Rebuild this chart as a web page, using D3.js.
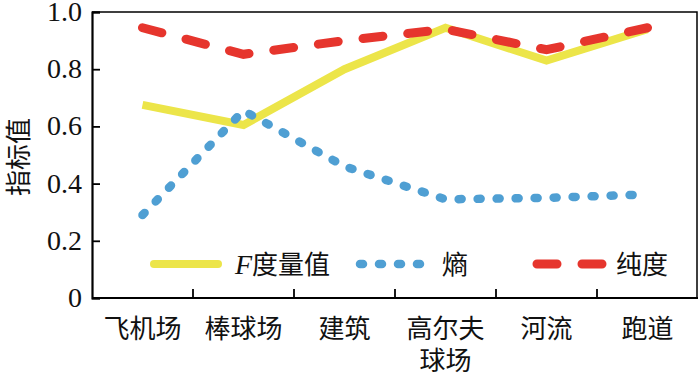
<!DOCTYPE html>
<html>
<head>
<meta charset="utf-8">
<script src="https://cdn.jsdelivr.net/npm/d3@7"></script>
<style>
  body { margin: 0; background: #fff; }
  .num { font-family: "Liberation Serif", "Times New Roman", serif; }
  .cjk { font-family: "Noto Sans CJK SC", sans-serif; }
</style>
</head>
<body>
<script>
// data
var categories = [["飞机场"], ["棒球场"], ["建筑"], ["高尔夫", "球场"], ["河流"], ["跑道"]];
var fValues = [0.675, 0.605, 0.80, 0.945, 0.83, 0.94];
var entropyValues = [0.29, 0.655, 0.46, 0.345, 0.35, 0.362];
var purityValues = [0.945, 0.852, 0.90, 0.94, 0.868, 0.945];
var yTicks = [0, 0.2, 0.4, 0.6, 0.8, 1.0];
var seriesNames = ["F度量值", "熵", "纯度"];

var w = 700, h = 376;
var plotLeft = 92, plotRight = 698, plotTop = 12, plotBottom = 298;

var svg = d3.select("body").append("svg")
    .attr("width", w)
    .attr("height", h);

var xScale = d3.scaleBand()
    .domain(d3.range(categories.length))
    .range([plotLeft, plotRight]);

var yScale = d3.scaleLinear()
    .domain([0, 1])
    .range([plotBottom, plotTop]);

// frame (top + right thinner)
svg.append("path")
    .attr("d", "M" + plotLeft + "," + plotTop + "H" + (plotRight - 1) + "V" + plotBottom)
    .attr("fill", "none")
    .attr("stroke", "#000")
    .attr("stroke-width", 1.5);

// y axis
var yAxis = svg.append("g")
    .attr("transform", "translate(" + plotLeft + ",0)")
    .call(d3.axisRight(yScale).tickValues(yTicks).tickSize(8).tickFormat(""));
yAxis.select(".domain").attr("stroke-width", 2.2);
yAxis.selectAll(".tick line").attr("stroke-width", 1.8);

svg.selectAll(".ylab")
    .data(yTicks)
    .enter()
    .append("text")
    .attr("class", "num ylab")
    .attr("x", plotLeft - 10)
    .attr("y", function(d) { return yScale(d) + 9; })
    .attr("text-anchor", "end")
    .attr("font-size", "28px")
    .attr("fill", "#111")
    .text(function(d) { return d === 0 ? "0" : d.toFixed(1); });

// x axis
var xAxis = svg.append("g")
    .attr("transform", "translate(0," + plotBottom + ")");
xAxis.append("line")
    .attr("x1", plotLeft).attr("x2", plotRight)
    .attr("stroke", "#000").attr("stroke-width", 2.2);
xAxis.selectAll(".xt")
    .data(d3.range(1, categories.length))
    .enter()
    .append("line")
    .attr("x1", function(d) { return xScale(d); })
    .attr("x2", function(d) { return xScale(d); })
    .attr("y1", 0).attr("y2", -9)
    .attr("stroke", "#000").attr("stroke-width", 1.8);

var labels = svg.selectAll(".xlab")
    .data(categories)
    .enter()
    .append("text")
    .attr("class", "cjk xlab")
    .attr("font-size", "26px")
    .attr("text-anchor", "middle")
    .attr("fill", "#111");
labels.selectAll("tspan")
    .data(function(d, i) { return d.map(function(s) { return {s: s, i: i}; }); })
    .enter()
    .append("tspan")
    .attr("x", function(d) { return xScale(d.i) + xScale.bandwidth() / 2; })
    .attr("y", function(d, j) { return 338 + j * 32; })
    .text(function(d) { return d.s; });

// y title
svg.append("text")
    .attr("class", "cjk")
    .attr("font-size", "26px")
    .attr("text-anchor", "middle")
    .attr("dominant-baseline", "central")
    .attr("transform", "translate(16,157) rotate(-90)")
    .attr("fill", "#111")
    .text("指标值");

var line = d3.line()
    .x(function(d, i) { return xScale(i) + xScale.bandwidth() / 2; })
    .y(function(d) { return yScale(d); });

var styles = [
    {data: fValues, color: "#ece549", width: 8, dash: null, cap: "butt"},
    {data: entropyValues, color: "#4f9fd3", width: 8.5, dash: "3,16", cap: "round"},
    {data: purityValues, color: "#e6352d", width: 9, dash: "20,25", cap: "round"}
];

styles.forEach(function(s) {
    svg.append("path")
        .datum(s.data)
        .attr("d", line)
        .attr("fill", "none")
        .attr("stroke", s.color)
        .attr("stroke-width", s.width)
        .attr("stroke-linecap", s.cap)
        .attr("stroke-linejoin", "miter")
        .attr("stroke-dasharray", s.dash);
});

// legend
var legendX = [150, 360, 537];
var legendY = 264;
styles.forEach(function(s, i) {
    svg.append("line")
        .attr("x1", legendX[i] + (s.cap === "round" ? 0 : 4))
        .attr("x2", legendX[i] + 68)
        .attr("y1", legendY).attr("y2", legendY)
        .attr("stroke", s.color)
        .attr("stroke-width", s.width)
        .attr("stroke-linecap", "round")
        .attr("stroke-dasharray", s.dash);
});
var lt = svg.append("text")
    .attr("x", 235).attr("y", legendY + 10)
    .attr("font-size", "26px")
    .attr("fill", "#111");
lt.append("tspan").attr("class", "num").attr("font-style", "italic").attr("font-size", "28px").text("F");
lt.append("tspan").attr("class", "cjk").text(seriesNames[0].slice(1));
svg.append("text").attr("class", "cjk")
    .attr("x", 442).attr("y", legendY + 10)
    .attr("font-size", "26px").attr("fill", "#111")
    .text(seriesNames[1]);
svg.append("text").attr("class", "cjk")
    .attr("x", 616).attr("y", legendY + 10)
    .attr("font-size", "26px").attr("fill", "#111")
    .text(seriesNames[2]);
</script>
</body>
</html>
